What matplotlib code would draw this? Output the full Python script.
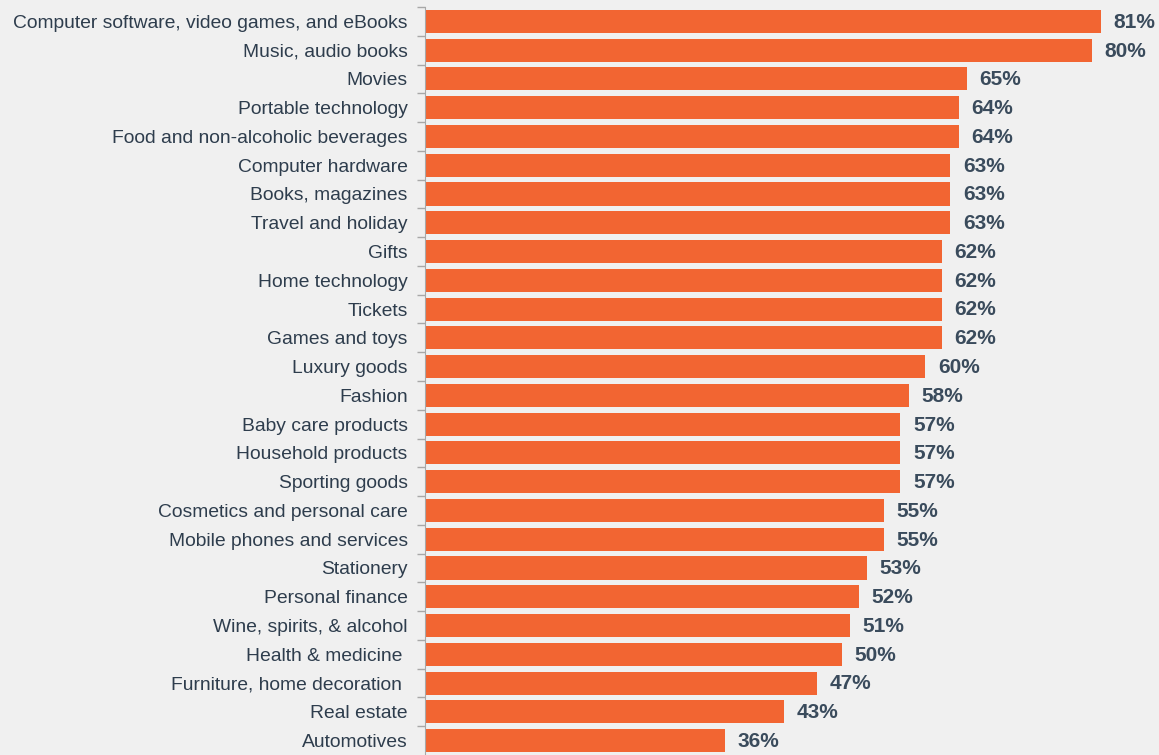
import matplotlib.pyplot as plt
import numpy as np

categories = [
    "Computer software, video games, and eBooks",
    "Music, audio books",
    "Movies",
    "Portable technology",
    "Food and non-alcoholic beverages",
    "Computer hardware",
    "Books, magazines",
    "Travel and holiday",
    "Gifts",
    "Home technology",
    "Tickets",
    "Games and toys",
    "Luxury goods",
    "Fashion",
    "Baby care products",
    "Household products",
    "Sporting goods",
    "Cosmetics and personal care",
    "Mobile phones and services",
    "Stationery",
    "Personal finance",
    "Wine, spirits, & alcohol",
    "Health & medicine ",
    "Furniture, home decoration ",
    "Real estate",
    "Automotives",
]
values = [81, 80, 65, 64, 64, 63, 63, 63, 62, 62, 62, 62, 60,
          58, 57, 57, 57, 55, 55, 53, 52, 51, 50, 47, 43, 36]

bg = "#f0f0f0"
bar_color = "#f26532"
text_color = "#2e3d4d"

plt.rcParams['font.family'] = ['Liberation Sans', 'DejaVu Sans']

fig = plt.figure(figsize=(11.59, 7.55), dpi=100)
fig.patch.set_facecolor(bg)
ax = fig.add_axes([425 / 1159, 0, 1 - 425 / 1159, 1 - 7 / 755])
ax.set_facecolor(bg)

y = np.arange(len(categories))
ax.barh(y, values, height=0.8, color=bar_color)
ax.set_ylim(len(categories) - 0.5, -0.5)
ax.set_xlim(0, 88.0)

ax.set_yticks(y)
ax.set_yticklabels(categories, fontsize=13.85, color=text_color)
ax.tick_params(axis='y', length=0, pad=12.5)
# small ticks on the boundaries between bars
ax.set_yticks(np.arange(len(categories)) - 0.5, minor=True)
ax.tick_params(axis='y', which='minor', length=6, color="#a8a8a8", width=1)
ax.set_xticks([])

for s in ['top', 'right', 'bottom']:
    ax.spines[s].set_visible(False)
ax.spines['left'].set_color("#a8a8a8")

for yi, v in zip(y, values):
    ax.text(v + 1.5, yi + 0.03, f"{v}%", va='center', ha='left', fontsize=15,
            fontweight='bold', color="#3a4b5c")

fig.savefig("out.png", dpi=100, facecolor=bg)
